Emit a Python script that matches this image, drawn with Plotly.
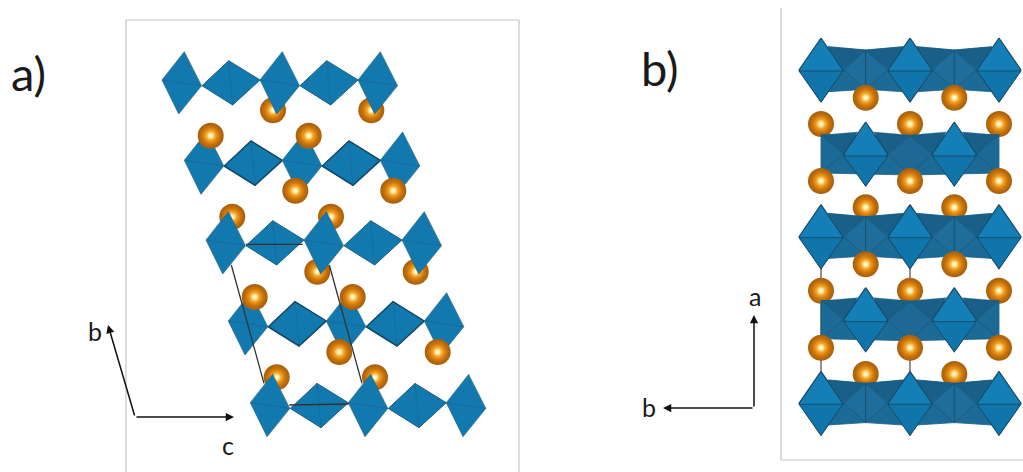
import plotly.graph_objects as go

# ---- panel a: lattice data (picture units) ----
a_tilt_outline_x = [184.3, 201.5, 178.7, 162.0]
a_tilt_outline_y = [51.7, 85.7, 114.0, 80.0]
a_flat_outline_x = [202.0, 228.7, 260.0, 232.7]
a_flat_outline_y = [85.7, 60.7, 80.0, 105.0]
a_row_dx = [0.0, 22.3, 44.0, 66.3, 88.3]
a_row_dy = [0.0, 80.3, 160.0, 241.0, 322.7]
a_repeat_tilt = [0.0, 98.0, 196.0]
a_repeat_flat = [0.0, 98.0]

a_back_spheres_x = [273.0, 371.3, 232.3, 331.0, 317.3, 415.7, 276.7, 375.0]
a_back_spheres_y = [110.3, 110.3, 216.7, 216.7, 271.7, 271.7, 377.3, 377.3]
a_front_spheres_x = [210.7, 308.7, 295.3, 393.3, 254.7, 352.7, 339.3, 437.7]
a_front_spheres_y = [135.7, 135.7, 190.7, 190.7, 297.0, 297.0, 352.0, 352.0]

a_cell_x = [[231.3, 264.0], [329.3, 362.0], [246.0, 302.7], [289.3, 348.7]]
a_cell_y = [[265.0, 383.3], [265.0, 383.3], [244.3, 244.3], [405.0, 404.0]]

# ---- panel b: lattice data ----
b_wide_rows = [70.0, 236.7, 403.3]
b_narrow_rows = [154.0, 319.7]
b_col_x = [821.0, 910.0, 999.0]
b_mid_x = [865.7, 954.3]
b_back_spheres_x = [821.0, 910.0, 999.0, 865.7, 954.3, 821.0, 910.0, 999.0, 865.7, 954.3]
b_back_spheres_y = [124.0, 124.0, 124.0, 207.3, 207.3, 290.7, 290.7, 290.7, 374.0, 374.0]
b_front_spheres_x = [865.7, 954.3, 821.0, 910.0, 999.0, 865.7, 954.3, 821.0, 910.0, 999.0]
b_front_spheres_y = [97.7, 97.7, 181.0, 181.0, 181.0, 264.3, 264.3, 347.7, 347.7, 347.7]
b_cell_x = [[821.0, 821.0], [910.0, 910.0]]
b_cell_y = [[236.7, 403.3], [236.7, 403.3]]

BLUE = "#1279ae"
EDGE = "#174a66"
DIAMOND_TOP = "#147eb6"
DIAMOND_BOT = "#1075aa"
BAND = "#1c6a96"
WEDGE = "#195f87"
KITE = "#1f6d9a"
GRID = "#c4c4c4"

fig = go.Figure()


def poly(xs, ys, fill=None, color=EDGE, width=1.0):
    fig.add_trace(go.Scatter(
        x=list(xs) + [xs[0]], y=list(ys) + [ys[0]], mode="lines",
        fill="toself" if fill else None, fillcolor=fill,
        line=dict(color=color, width=width), hoverinfo="skip", showlegend=False))


def seg(xs, ys, color=EDGE, width=1.0):
    fig.add_trace(go.Scatter(x=xs, y=ys, mode="lines", line=dict(color=color, width=width),
                             hoverinfo="skip", showlegend=False))


def spheres(xs, ys, size=26):
    layers = [
        (1.0, "#a8600c", "#e8860c"),
        (0.86, "rgba(240,140,12,0)", "#f59208"),
        (0.66, "rgba(250,160,20,0)", "#fff8a8"),
        (0.34, "rgba(255,250,180,0)", "#fffff0"),
    ]
    for scale, edge, centre in layers:
        fig.add_trace(go.Scatter(x=xs, y=ys, mode="markers", hoverinfo="skip", showlegend=False,
                                 marker=dict(size=size * scale, color=edge,
                                             gradient=dict(type="radial", color=centre),
                                             line=dict(width=0))))


# frames
seg([126, 126], [472, 20], GRID, 1.2)
seg([126, 519], [20, 20], GRID, 1.2)
seg([519, 519], [20, 472], GRID, 1.2)
seg([781, 781], [8, 460], GRID, 1.2)
seg([781, 1023], [460, 460], GRID, 1.2)

# panel a
spheres(a_back_spheres_x, a_back_spheres_y)
for r, (dx, dy) in enumerate(zip(a_row_dx, a_row_dy)):
    for rx in a_repeat_flat:
        xs = [v + dx + rx for v in a_flat_outline_x]
        ys = [v + dy for v in a_flat_outline_y]
        heavy = r in (1, 3)
        poly(xs, ys, BLUE, "#1b5f85", 1.0)
        seg([xs[1], xs[3]], [ys[1], ys[3]], "#1b6490", 0.7)
        seg([xs[0], xs[2]], [ys[0], ys[2]], "#1475a8", 0.5)
        if heavy:
            seg([xs[0], xs[1], xs[2]], [ys[0], ys[1], ys[2]], "#144a68", 1.4)
            seg([xs[0], xs[3], xs[2]], [ys[0], ys[3], ys[2]], "#144a68", 1.6)
    for rx in a_repeat_tilt:
        xs = [v + dx + rx for v in a_tilt_outline_x]
        ys = [v + dy for v in a_tilt_outline_y]
        poly(xs, ys, BLUE, "#2a6583", 0.7)
        seg([xs[3], xs[1]], [ys[3], ys[1]], "#1b6490", 0.7)
for xs, ys in zip(a_cell_x, a_cell_y):
    seg(xs, ys, "#333333", 1.3)
spheres(a_front_spheres_x, a_front_spheres_y)

# panel b
for xs, ys in zip(b_cell_x, b_cell_y):
    seg(xs, ys, "#555555", 1.3)
spheres(b_back_spheres_x, b_back_spheres_y)

for cy in b_narrow_rows:
    poly([821, 910, 999, 999, 910, 821], [cy - 19.3, cy - 18.3, cy - 19.3, cy + 19, cy + 21, cy + 19], BAND, "#1b5f85", 0.8)
    seg([821, 843.5, 821], [cy - 19.3, cy, cy + 19], "#1b5577", 0.8)
    seg([999, 976.5, 999], [cy - 19.3, cy, cy + 19], "#1b5577", 0.8)
    poly([888, 910, 932, 910], [cy, cy - 18.3, cy, cy + 21], "#1d6894", "#1b5577", 0.8)
    for mx in b_mid_x:
        poly([mx - 22, mx - 8, mx - 44], [cy, cy - 22, cy - 19], WEDGE, WEDGE, 0.3)
        poly([mx + 22, mx + 8, mx + 44], [cy, cy - 22, cy - 19], WEDGE, WEDGE, 0.3)
    for mx in b_mid_x:
        poly([mx, mx + 22, mx, mx - 22], [cy - 32, cy, cy + 32, cy], DIAMOND_TOP, EDGE, 1.2)
        poly([mx - 22, mx + 22, mx], [cy + 2, cy + 2, cy + 32], DIAMOND_BOT, EDGE, 0.9)

for cy in b_wide_rows:
    poly([828, 865.7, 903, 917, 954.3, 992, 992, 954.3, 917, 903, 865.7, 828],
         [cy - 23.3, cy - 20, cy - 23.3, cy - 23.3, cy - 20, cy - 23.3,
          cy + 21.7, cy + 19.3, cy + 21.7, cy + 21.7, cy + 19.3, cy + 21.7], BAND, "#1b5f85", 0.8)
    for mx in b_mid_x:
        poly([mx - 22, mx, mx - 37], [cy - 2, cy - 20, cy - 23.3], WEDGE, WEDGE, 0.3)
        poly([mx + 22, mx, mx + 37], [cy - 2, cy - 20, cy - 23.3], WEDGE, WEDGE, 0.3)
        poly([mx - 22, mx, mx + 22, mx], [cy, cy - 20, cy, cy + 19.3], KITE, "#1b5577", 0.8)
        seg([mx, mx], [cy - 20, cy + 19.3], "#184f6e", 1.0)
    for mx in b_col_x:
        poly([mx, mx + 22, mx, mx - 22], [cy - 32, cy, cy + 32, cy], DIAMOND_TOP, EDGE, 1.2)
        poly([mx - 22, mx + 22, mx], [cy + 1, cy + 1, cy + 32], DIAMOND_BOT, EDGE, 0.9)

spheres(b_front_spheres_x, b_front_spheres_y)

FONT = "Lato, 'Open Sans', sans-serif"
labels = [("a)", 28, 73, 47), ("b)", 660, 68, 47),
          ("b", 95, 331, 25), ("c", 228, 445, 25), ("a", 755, 296, 25), ("b", 649, 407, 25)]
annotations = [dict(x=x, y=y, text=t, showarrow=False, xref="x", yref="y",
                    font=dict(family=FONT, size=s, color="#1a1a1a"))
               for t, x, y, s in labels]
for tx, ty, sx, sy in [(108, 325, 135, 417), (234, 417, 135, 417), (754, 315, 754, 408), (663, 408, 754, 408)]:
    annotations.append(dict(x=tx, y=ty, ax=sx, ay=sy, xref="x", yref="y", axref="x", ayref="y",
                            text="", showarrow=True, arrowhead=2, arrowsize=1.1, arrowwidth=1.5,
                            arrowcolor="#111111"))

fig.update_layout(
    width=1023, height=472, margin=dict(l=0, r=0, t=0, b=0),
    paper_bgcolor="white", plot_bgcolor="white", showlegend=False,
    xaxis=dict(range=[0, 1023], visible=False, fixedrange=True),
    yaxis=dict(range=[472, 0], visible=False, fixedrange=True),
    annotations=annotations,
)
fig.write_html("out.html", config=dict(displayModeBar=False),
               post_script="document.body.style.margin='0';document.body.style.overflow='hidden';")
